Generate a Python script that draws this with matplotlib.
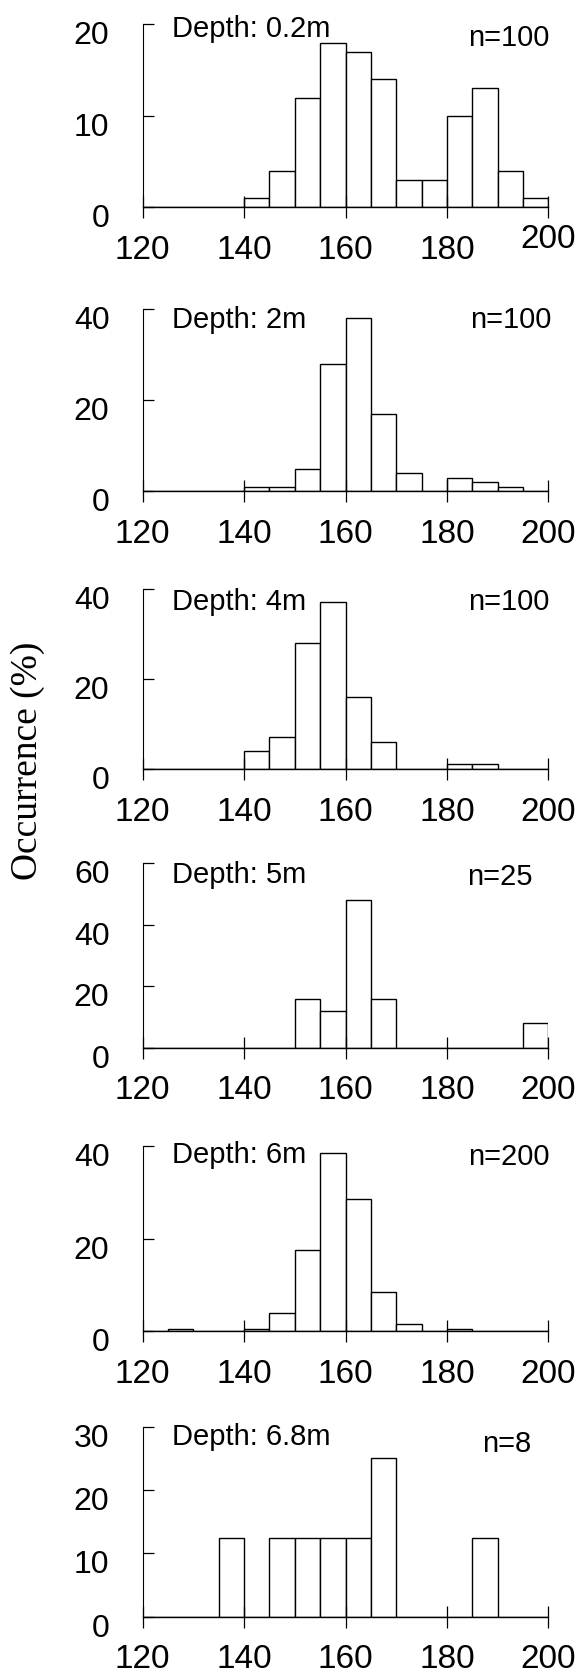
import matplotlib
matplotlib.use("Agg")
import matplotlib.pyplot as plt
from matplotlib.transforms import ScaledTranslation

plt.rcParams['font.family'] = ['Liberation Sans', 'DejaVu Sans']

# histogram bins (left edges, width 5)
bin_left = [120, 125, 130, 135, 140, 145, 150, 155, 160, 165, 170, 175, 180, 185, 190, 195]
depths = ["Depth: 0.2m", "Depth: 2m", "Depth: 4m", "Depth: 5m", "Depth: 6m", "Depth: 6.8m"]
n_labels = ["n=100", "n=100", "n=100", "n=25", "n=200", "n=8"]

pct_02 = [0, 0, 0, 0, 1, 4, 12, 18, 17, 14, 3, 3, 10, 13, 4, 1]
pct_2 = [0, 0, 0, 0, 1, 1, 5, 28, 38, 17, 4, 0, 3, 2, 1, 0]
pct_4 = [0, 0, 0, 0, 4, 7, 28, 37, 16, 6, 0, 0, 1, 1, 0, 0]
pct_5 = [0, 0, 0, 0, 0, 0, 16, 12, 48, 16, 0, 0, 0, 0, 0, 8]
pct_6 = [0, 0.5, 0, 0, 0.5, 4, 17.5, 38.5, 28.5, 8.5, 1.5, 0, 0.5, 0, 0, 0]
pct_68 = [0, 0, 0, 12.5, 0, 12.5, 12.5, 12.5, 12.5, 25, 0, 0, 0, 12.5, 0, 0]
all_pct = [pct_02, pct_2, pct_4, pct_5, pct_6, pct_68]

y_ticks = [[0, 10, 20], [0, 20, 40], [0, 20, 40], [0, 20, 40, 60], [0, 20, 40], [0, 10, 20, 30]]
x_ticks = [120, 140, 160, 180, 200]

# layout (figure fractions): bottom, height
boxes = [(0.8762, 0.1093), (0.7067, 0.1086), (0.5409, 0.1075),
         (0.3745, 0.1101), (0.2052, 0.1106), (0.0348, 0.1134)]
depth_y = [0.932, 0.899, 0.883, 0.891, 0.907, 0.904]
n_pos = [(1.004, 0.881), (1.008, 0.895), (1.004, 0.883), (0.962, 0.882), (1.004, 0.897), (0.958, 0.868)]

fig = plt.figure(figsize=(5.79, 16.75), dpi=100)

for i in range(6):
    b, h = boxes[i]
    ax = fig.add_axes([0.2465, b, 0.7005, h])
    ax.bar(bin_left, all_pct[i], width=5, align='edge', facecolor='white',
           edgecolor='black', linewidth=1.0)
    ax.set_xlim(120, 200)
    ax.set_ylim(0, y_ticks[i][-1])
    ax.spines['top'].set_visible(False)
    ax.spines['right'].set_visible(False)
    ax.spines['left'].set_linewidth(0.8)
    ax.spines['bottom'].set_linewidth(1.0)
    ax.set_xticks(x_ticks)
    ax.set_yticks(y_ticks[i])
    ax.tick_params(axis='x', direction='inout', length=16, width=0.9, pad=12, labelsize=24)
    ax.tick_params(axis='y', direction='in', length=8, width=0.9, pad=24, labelsize=23)
    for lab in ax.get_yticklabels():
        lab.set_va('top')
        lab.set_transform(lab.get_transform() + ScaledTranslation(0, 0.03, fig.dpi_scale_trans))
    if i == 0:
        lab = ax.get_xticklabels()[-1]
        lab.set_transform(lab.get_transform() + ScaledTranslation(0, 0.11, fig.dpi_scale_trans))
    ax.text(0.072, depth_y[i], depths[i], transform=ax.transAxes, fontsize=21,
            ha='left', va='baseline')
    ax.text(n_pos[i][0], n_pos[i][1], n_labels[i], transform=ax.transAxes, fontsize=21,
            ha='right', va='baseline')

fig.text(0.047, 0.5457, "Occurrence (%)", rotation=90, ha='center', va='center',
         fontsize=27, family='Liberation Serif')

fig.savefig("out.png", dpi=100)
